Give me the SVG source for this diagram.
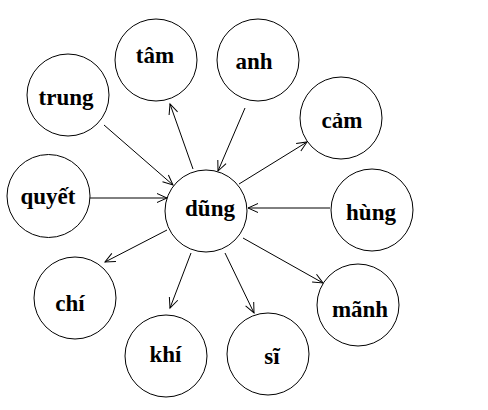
<svg xmlns="http://www.w3.org/2000/svg" width="488" height="410" viewBox="0 0 488 410">
<style>
.n circle{fill:#fff;stroke:#000;stroke-width:1}
.n text{font-family:"Liberation Serif","Times New Roman",serif;font-weight:bold;font-size:23px;text-anchor:middle;fill:#000}
.e line{stroke:#000;stroke-width:1;marker-end:url(#arr)}
</style>
<defs>
<marker id="arr" markerUnits="userSpaceOnUse" markerWidth="14" markerHeight="12" refX="11" refY="6" orient="auto" viewBox="0 0 14 12">
<path d="M1,1.5 L11,6 L1,10.5" fill="none" stroke="#000" stroke-width="1"/>
</marker>
</defs>
<rect width="488" height="410" fill="#fff"/>
<g id="connectors" class="e">
<line x1="104" y1="125" x2="173" y2="185"/>
<line x1="90" y1="198" x2="167" y2="198"/>
<line x1="193" y1="169" x2="170" y2="104"/>
<line x1="245" y1="108" x2="218" y2="171"/>
<line x1="239" y1="184" x2="307" y2="142"/>
<line x1="330" y1="208" x2="248" y2="208"/>
<line x1="243" y1="238" x2="323" y2="283"/>
<line x1="225" y1="253" x2="254" y2="313"/>
<line x1="191" y1="253" x2="170" y2="308"/>
<line x1="167" y1="230" x2="105" y2="262"/>
</g>
<g id="node-dung" class="n"><circle cx="206" cy="211" r="41"/><text x="210" y="216">dũng</text></g>
<g id="node-tam" class="n"><circle cx="156" cy="60" r="41"/><text x="155" y="63">tâm</text></g>
<g id="node-anh" class="n"><circle cx="258" cy="60" r="41"/><text x="254" y="69">anh</text></g>
<g id="node-trung" class="n"><circle cx="68" cy="95" r="41"/><text x="66" y="105">trung</text></g>
<g id="node-cam" class="n"><circle cx="341" cy="118" r="41"/><text x="342" y="128">cảm</text></g>
<g id="node-quyet" class="n"><circle cx="48.5" cy="196" r="41.5"/><text x="48" y="204">quyết</text></g>
<g id="node-hung" class="n"><circle cx="372" cy="210" r="41"/><text x="371" y="220">hùng</text></g>
<g id="node-chi" class="n"><circle cx="75" cy="298" r="41"/><text x="70" y="311">chí</text></g>
<g id="node-manh" class="n"><circle cx="358" cy="305" r="41"/><text x="360" y="317">mãnh</text></g>
<g id="node-khi" class="n"><circle cx="166" cy="356" r="41"/><text x="165.5" y="362">khí</text></g>
<g id="node-si" class="n"><circle cx="268" cy="354" r="41"/><text x="272" y="364">sĩ</text></g>
</svg>
